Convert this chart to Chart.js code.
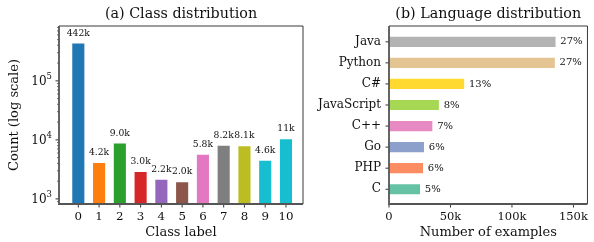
<!DOCTYPE html>
<html>
<head>
<meta charset="utf-8">
<script src="https://cdn.jsdelivr.net/npm/chart.js@4.4.1/dist/chart.umd.min.js"></script>
<style>
  html, body { margin:0; padding:0; background:#fff; }
  #wrap { position:relative; width:594px; height:242px; overflow:hidden; }
  .panel { position:absolute; top:0; height:242px; }
  #pa { left:0; width:310px; }
  #pb { left:300px; width:294px; }
</style>
</head>
<body>
<div id="wrap">
  <div class="panel" id="pa"><canvas id="ca"></canvas></div>
  <div class="panel" id="pb"><canvas id="cb"></canvas></div>
</div>
<script>
// ---- data ----
const classLabels = [0, 1, 2, 3, 4, 5, 6, 7, 8, 9, 10];
const classCounts = [442000, 4180, 8980, 2960, 2180, 1980, 5780, 8200, 8080, 4580, 10600];
const classColors = ["#1f77b4","#ff7f0e","#2ca02c","#d62728","#9467bd","#8c564b",
                     "#e377c2","#7f7f7f","#bcbd22","#17becf","#17becf"];
const logTicks = [1e3, 1e4, 1e5];

const languages  = ["Java","Python","C#","JavaScript","C++","Go","PHP","C"];
const langCounts = [136100, 135500, 61800, 41200, 35900, 29100, 28300, 25900];
const langShares = [27, 27, 13, 8, 7, 6, 6, 5];
const langColors = ["#b3b3b3","#e5c494","#ffd92f","#a6d854","#e78ac3","#8da0cb","#fc8d62","#66c2a5"];
const countTicks = [0, 50000, 100000, 150000];

const FONT = "'DejaVu Serif', serif";
const TXT = "#111";

const isPow10 = v => Math.abs(Math.log10(v) - Math.round(Math.log10(v))) < 1e-9;
const kfmt = v => v >= 10000 ? Math.round(v/1000) + "k" : (v/1000).toFixed(1) + "k";

// spines, tick marks, panel title, bar annotations
function decorate(title, annotate) {
  return {
    id: "decorate",
    afterDatasetsDraw(chart) {
      const ctx = chart.ctx, a = chart.chartArea;
      const xs = chart.scales.x, ys = chart.scales.y;
      ctx.save();
      annotate(chart, ctx);
      ctx.strokeStyle = "#333";
      xs.ticks.forEach(t => {
        const px = xs.getPixelForValue(t.value);
        ctx.lineWidth = 1;
        ctx.beginPath(); ctx.moveTo(px, a.bottom); ctx.lineTo(px, a.bottom + 3.5); ctx.stroke();
      });
      ys.ticks.forEach(t => {
        const py = ys.getPixelForValue(t.value);
        const major = ys.type !== "logarithmic" || isPow10(t.value);
        ctx.lineWidth = major ? 1 : 0.7;
        const len = major ? 3.5 : 2;
        ctx.beginPath(); ctx.moveTo(a.left - len, py); ctx.lineTo(a.left, py); ctx.stroke();
      });
      ctx.strokeStyle = "#222"; ctx.lineWidth = 0.9;
      ctx.beginPath();
      ctx.moveTo(a.left, a.top); ctx.lineTo(a.right, a.top); ctx.lineTo(a.right, a.bottom);
      ctx.stroke();
      ctx.strokeStyle = "#555"; ctx.lineWidth = 1.8;
      ctx.beginPath();
      ctx.moveTo(a.left, a.top); ctx.lineTo(a.left, a.bottom); ctx.lineTo(a.right, a.bottom);
      ctx.stroke();
      ctx.fillStyle = TXT;
      ctx.font = "14.3px " + FONT;
      ctx.textAlign = "center"; ctx.textBaseline = "middle";
      ctx.fillText(title, (a.left + a.right) / 2, 14);
      ctx.restore();
    }
  };
}

const keepTicks = test => s => { s.ticks = s.ticks.filter(t => test(t.value)); };

// ---- (a) class distribution ----
new Chart(document.getElementById("ca"), {
  type: "bar",
  data: {
    datasets: [{
      data: classLabels.map((c, i) => ({ x: c, y: classCounts[i] })),
      backgroundColor: classColors,
      borderColor: "rgba(255,255,255,0.45)",
      borderWidth: 0.8,
      barPercentage: 0.66,
      categoryPercentage: 1
    }]
  },
  options: {
    responsive: true, maintainAspectRatio: false, animation: false,
    layout: { padding: { top: 26, right: 7, left: 0, bottom: 0 } },
    plugins: { legend: { display: false }, tooltip: { enabled: false }, title: { display: false } },
    scales: {
      x: {
        type: "linear", min: -0.93, max: 10.82, offset: false, bounds: "data",
        afterBuildTicks: s => { s.ticks = classLabels.map(v => ({ value: v })); },
        afterFit: s => { s.height = 38; },
        grid: { display: false, drawTicks: false },
        border: { display: false },
        ticks: { autoSkip: false, maxRotation: 0, padding: 6, color: TXT,
                 font: { family: FONT, size: 11.8 }, callback: v => String(v) },
        title: { display: true, text: "Class label", color: TXT,
                 font: { family: FONT, size: 13 }, padding: { top: 0, bottom: 2 } }
      },
      y: {
        type: "logarithmic", min: 820, max: 850000,
        afterBuildTicks: keepTicks(v => {
          const e = Math.floor(Math.log10(v) + 1e-9), m = v / Math.pow(10, e);
          return Math.abs(m - Math.round(m)) < 1e-6;
        }),
        afterFit: s => { s.width = 59; },
        grid: { display: false, drawTicks: false },
        border: { display: false },
        ticks: { display: false },
        title: { display: true, text: "Count (log scale)", color: TXT,
                 font: { family: FONT, size: 13 }, padding: { top: 7, bottom: 0 } }
      }
    }
  },
  plugins: [decorate("(a) Class distribution", (chart, ctx) => {
    const meta = chart.getDatasetMeta(0);
    ctx.fillStyle = TXT;
    ctx.font = "9.2px " + FONT;
    ctx.textAlign = "center"; ctx.textBaseline = "alphabetic";
    meta.data.forEach((bar, i) => ctx.fillText(kfmt(classCounts[i]), bar.x, bar.y - 7));
    // log-axis labels as 10 with a raised exponent
    const ys = chart.scales.y, xr = chart.chartArea.left - 7;
    ctx.textAlign = "right"; ctx.textBaseline = "middle";
    logTicks.forEach(v => {
      const py = ys.getPixelForValue(v);
      const exp = String(Math.round(Math.log10(v)));
      ctx.font = "8.5px " + FONT;
      const ew = ctx.measureText(exp).width;
      ctx.fillText(exp, xr, py - 4);
      ctx.font = "12px " + FONT;
      ctx.fillText("10", xr - ew, py + 1);
    });
  })]
});

// ---- (b) language distribution ----
new Chart(document.getElementById("cb"), {
  type: "bar",
  data: {
    datasets: [{
      data: languages.map((l, i) => ({ x: langCounts[i], y: i })),
      backgroundColor: langColors,
      borderColor: "rgba(255,255,255,0.45)",
      borderWidth: 0.8,
      barPercentage: 0.56,
      categoryPercentage: 1
    }]
  },
  options: {
    indexAxis: "y",
    responsive: true, maintainAspectRatio: false, animation: false,
    layout: { padding: { top: 26, right: 1.3, left: 0, bottom: 0 } },
    plugins: { legend: { display: false }, tooltip: { enabled: false }, title: { display: false } },
    scales: {
      x: {
        type: "linear", min: 0, max: 161400, bounds: "data",
        afterBuildTicks: s => { s.ticks = countTicks.map(v => ({ value: v })); },
        afterFit: s => { s.height = 38; },
        grid: { display: false, drawTicks: false },
        border: { display: false },
        ticks: { autoSkip: false, maxRotation: 0, padding: 6, color: TXT,
                 font: { family: FONT, size: 11.5 }, callback: v => v === 0 ? "0" : (v / 1000) + "k" },
        title: { display: true, text: "Number of examples", color: TXT,
                 font: { family: FONT, size: 13 }, padding: { top: 0, bottom: 2 } }
      },
      y: {
        type: "linear", min: -0.75, max: 7.7, reverse: true, offset: false, bounds: "data",
        afterBuildTicks: s => { s.ticks = languages.map((l, i) => ({ value: i })); },
        afterFit: s => { s.width = 89; },
        grid: { display: false, drawTicks: false },
        border: { display: false },
        ticks: { autoSkip: false, padding: 8, color: TXT,
                 font: { family: FONT, size: 12 }, callback: v => languages[v] }
      }
    }
  },
  plugins: [decorate("(b) Language distribution", (chart, ctx) => {
    const meta = chart.getDatasetMeta(0);
    ctx.fillStyle = TXT;
    ctx.font = "10px " + FONT;
    ctx.textAlign = "left"; ctx.textBaseline = "middle";
    meta.data.forEach((bar, i) => ctx.fillText(langShares[i] + "%", bar.x + 4, bar.y));
  })]
});
</script>
</body>
</html>
